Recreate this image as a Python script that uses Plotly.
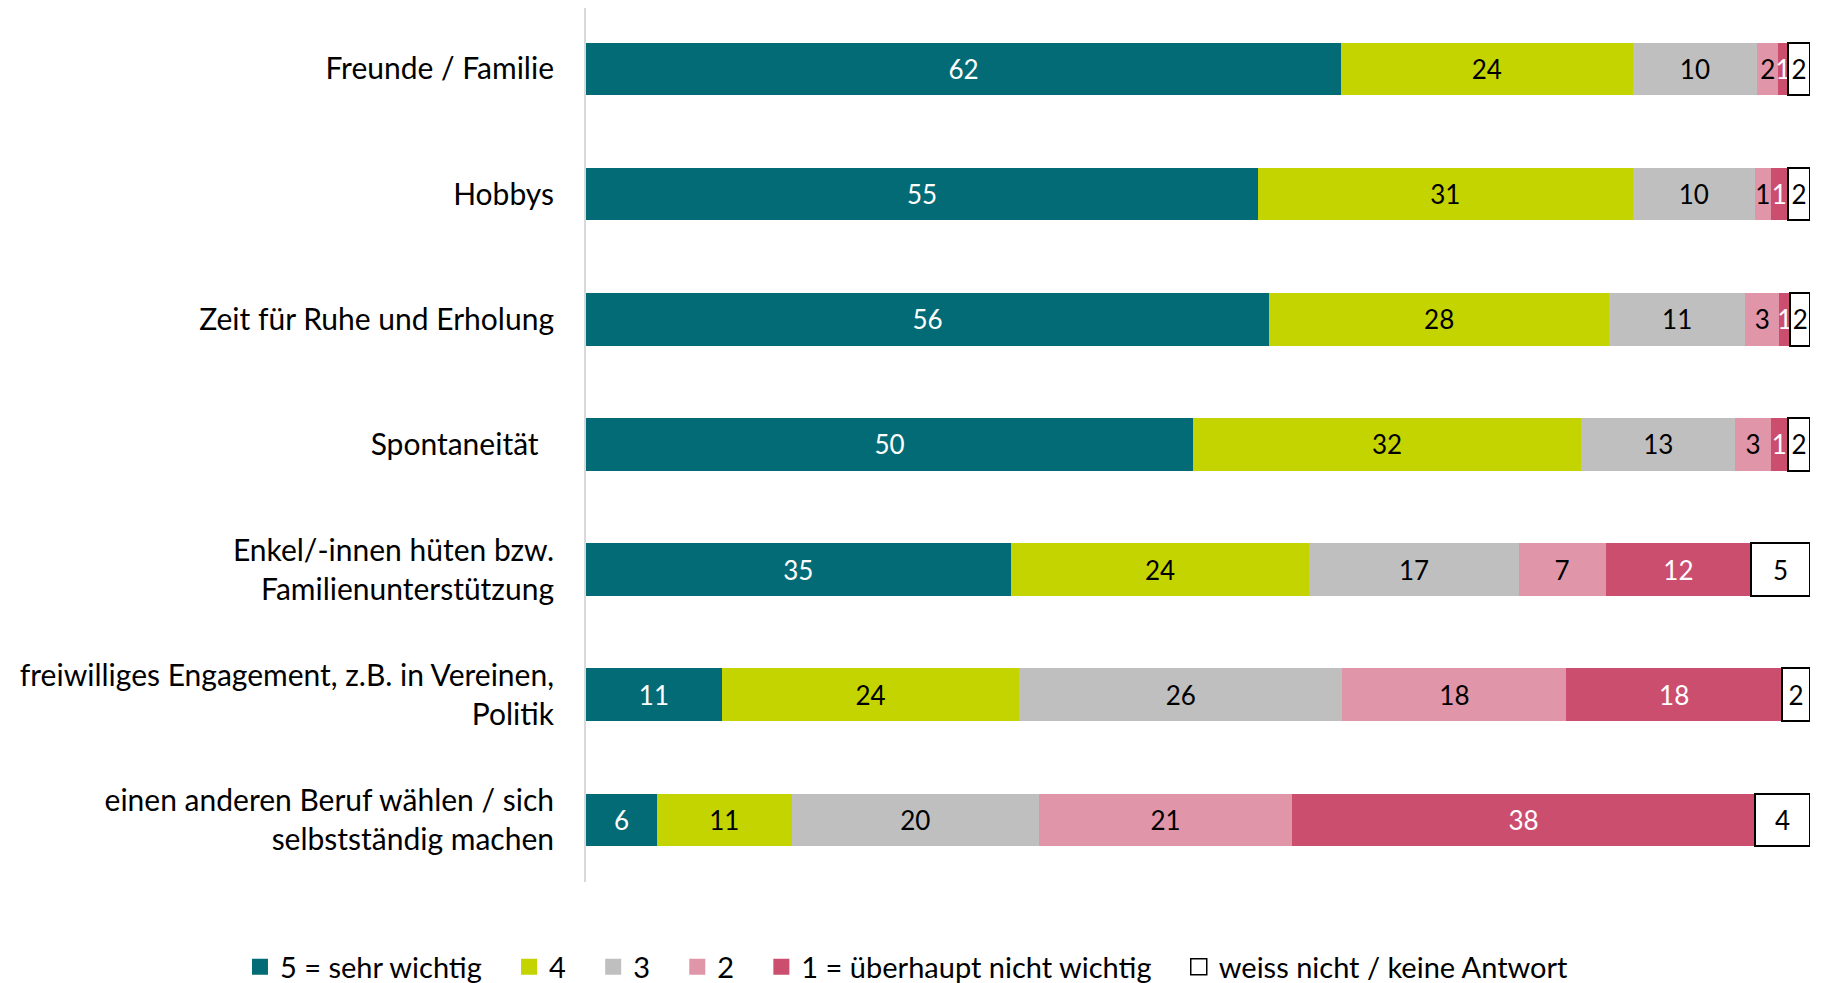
import plotly.graph_objects as go

categories = [
    "Freunde / Familie",
    "Hobbys",
    "Zeit für Ruhe und Erholung",
    "Spontaneität\u00a0\u00a0",
    "Enkel/-innen hüten bzw.<br>Familienunterstützung",
    "freiwilliges Engagement, z.B. in Vereinen,<br>Politik",
    "einen anderen Beruf wählen / sich<br>selbstständig machen",
]

series_names = [
    "5 = sehr wichtig",
    "4",
    "3",
    "2",
    "1 = überhaupt nicht wichtig",
    "weiss nicht / keine Antwort",
]

v5 = [61.7, 54.9, 55.8, 49.6, 34.7, 11.1, 5.8]
v4 = [23.8, 30.6, 27.8, 31.7, 24.4, 24.3, 11.0]
v3 = [10.2, 10.0, 11.1, 12.6, 17.1, 26.4, 20.2]
v2 = [1.7, 1.3, 2.8, 2.9, 7.1, 18.3, 20.7]
v1 = [0.8, 1.4, 0.9, 1.4, 11.9, 17.6, 37.8]
vna = [1.8, 1.8, 1.6, 1.8, 4.8, 2.3, 4.5]
labels = [
    ["62", "55", "56", "50", "35", "11", "6"],
    ["24", "31", "28", "32", "24", "24", "11"],
    ["10", "10", "11", "13", "17", "26", "20"],
    ["2", "1", "3", "3", "7", "18", "21"],
    ["1", "1", "1", "1", "12", "18", "38"],
    ["2", "2", "2", "2", "5", "2", "4"],
]

values = [v5, v4, v3, v2, v1, vna]
colors = ["#036B75", "#C4D400", "#BFBFBF", "#E096A8", "#CC4E6F", "#FFFFFF"]
text_colors = ["white", "black", "black", "black", "white", "black"]
line_colors = [None, None, None, None, None, "black"]

FONT = "Lato"
PAD = "\u00a0" * 3

fig = go.Figure()
for name, vals, lab, col, tcol, lcol in zip(series_names, values, labels, colors, text_colors, line_colors):
    fig.add_trace(go.Bar(
        y=categories,
        x=vals,
        name=name,
        orientation="h",
        showlegend=False,
        marker=dict(color=col, line=dict(color=lcol if lcol else col, width=2 if lcol else 0)),
        text=lab,
        textposition="inside",
        insidetextanchor="middle",
        textangle=0,
        textfont=dict(color=tcol, size=26, family=FONT),
        constraintext="none",
        cliponaxis=False,
    ))

# legend entries with larger square symbols
for i, (name, col, lcol) in enumerate(zip(series_names, colors, line_colors)):
    fig.add_trace(go.Scatter(
        x=[None], y=[None], mode="markers",
        name=name + (PAD if i < len(series_names) - 1 else ""),
        marker=dict(symbol="square", size=16, color=col,
                    line=dict(color=lcol if lcol else col, width=1.5 if lcol else 0)),
        showlegend=True, hoverinfo="skip",
    ))

# body margin of 8px in the html page is accounted for in the size
fig.update_layout(
    barmode="stack",
    width=1815,
    height=975,
    margin=dict(l=578, r=13, t=0, b=101, autoexpand=False),
    paper_bgcolor="white",
    plot_bgcolor="white",
    bargap=0.58,
    font=dict(family=FONT, size=29, color="black"),
    xaxis=dict(range=[0, 100], showgrid=False, showticklabels=False, zeroline=False,
               showline=False, fixedrange=True),
    yaxis=dict(type="category", range=[6.496, -0.487], showgrid=False, showline=True,
               linecolor="#D9D9D9", linewidth=2, ticks="", ticklabelstandoff=24,
               tickfont=dict(family=FONT, size=30, color="black")),
    legend=dict(orientation="h", xref="paper", yref="paper", x=-0.2827, y=-0.097,
                xanchor="left", yanchor="middle", font=dict(family=FONT, size=29),
                itemsizing="trace", traceorder="normal", itemwidth=30),
    showlegend=True,
)

fig.write_html("out.html")
